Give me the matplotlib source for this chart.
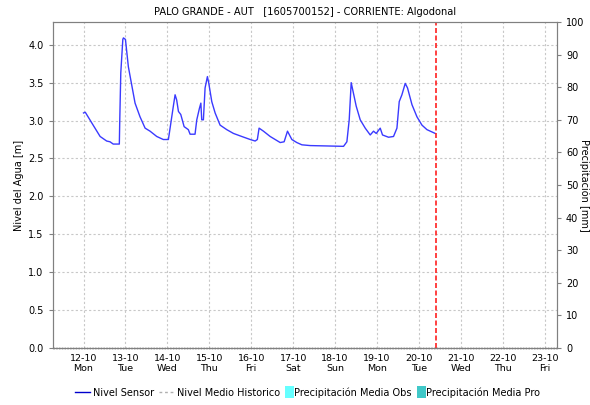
import matplotlib
matplotlib.use("Agg")
import matplotlib.pyplot as plt
import matplotlib.dates as mdates
from matplotlib.ticker import FormatStrFormatter
from matplotlib.lines import Line2D
from matplotlib.patches import Rectangle, Patch
from matplotlib.legend_handler import HandlerPatch
from datetime import datetime

# lecturas del sensor de nivel (fecha, nivel en m)
tiempos = [
    "2020-10-12 00:00", "2020-10-12 01:00", "2020-10-12 05:30", "2020-10-12 09:30",
    "2020-10-12 13:15", "2020-10-12 15:10", "2020-10-12 17:00", "2020-10-12 20:30",
    "2020-10-12 20:45", "2020-10-12 21:20", "2020-10-12 22:30", "2020-10-12 22:50",
    "2020-10-13 00:00", "2020-10-13 01:40", "2020-10-13 03:35", "2020-10-13 05:30",
    "2020-10-13 08:20", "2020-10-13 11:15", "2020-10-13 14:05", "2020-10-13 17:55",
    "2020-10-13 21:40", "2020-10-14 00:35", "2020-10-14 03:25", "2020-10-14 04:25",
    "2020-10-14 05:20", "2020-10-14 06:20", "2020-10-14 07:40", "2020-10-14 09:35",
    "2020-10-14 12:00", "2020-10-14 13:00", "2020-10-14 15:50", "2020-10-14 16:50",
    "2020-10-14 18:20", "2020-10-14 19:10", "2020-10-14 19:40", "2020-10-14 20:37",
    "2020-10-14 21:35", "2020-10-14 22:55", "2020-10-14 23:43", "2020-10-15 01:25",
    "2020-10-15 03:20", "2020-10-15 06:10", "2020-10-15 10:00", "2020-10-15 13:50",
    "2020-10-15 18:35", "2020-10-15 23:25", "2020-10-16 02:15", "2020-10-16 03:30",
    "2020-10-16 04:30", "2020-10-16 07:00", "2020-10-16 10:50", "2020-10-16 16:35",
    "2020-10-16 18:50", "2020-10-16 20:45", "2020-10-16 23:15", "2020-10-17 02:05",
    "2020-10-17 05:00", "2020-10-17 09:45", "2020-10-18 04:50", "2020-10-18 06:45",
    "2020-10-18 08:05", "2020-10-18 09:13", "2020-10-18 12:05", "2020-10-18 14:23",
    "2020-10-18 17:15", "2020-10-18 20:07", "2020-10-18 22:00", "2020-10-18 23:33",
    "2020-10-19 01:50", "2020-10-19 03:09", "2020-10-19 06:35", "2020-10-19 09:27",
    "2020-10-19 11:24", "2020-10-19 12:43", "2020-10-19 14:15", "2020-10-19 16:09",
    "2020-10-19 17:28", "2020-10-19 20:00", "2020-10-19 22:51", "2020-10-20 01:43",
    "2020-10-20 04:35", "2020-10-20 09:20",
]
nivel = [
    3.10, 3.11, 2.94, 2.79, 2.73, 2.72, 2.69, 2.69,
    3.01, 3.63, 4.07, 4.09, 4.07, 3.71, 3.47, 3.23,
    3.05, 2.90, 2.86, 2.79, 2.75, 2.75, 3.19, 3.34,
    3.27, 3.12, 3.08, 2.92, 2.88, 2.82, 2.82, 3.01,
    3.16, 3.23, 3.01, 3.01, 3.43, 3.58, 3.49, 3.25,
    3.10, 2.94, 2.88, 2.83, 2.79, 2.75, 2.73, 2.75,
    2.90, 2.86, 2.79, 2.71, 2.72, 2.86, 2.75, 2.71,
    2.68, 2.67, 2.66, 2.72, 3.01, 3.50, 3.19, 3.01,
    2.90, 2.81, 2.86, 2.83, 2.90, 2.81, 2.78, 2.79,
    2.90, 3.25, 3.34, 3.49, 3.43, 3.21, 3.05, 2.94,
    2.88, 2.83,
]
ahora = "2020-10-20 10:00"
inicio = "2020-10-11 06:15"
fin = "2020-10-23 07:00"

fmt = "%Y-%m-%d %H:%M"
t = [datetime.strptime(s, fmt) for s in tiempos]

fig = plt.figure(figsize=(5.9, 4.05), dpi=100)
ax = fig.add_axes([0.089, 0.1407, 0.855, 0.805])
ax2 = ax.twinx()

gris = "#808080"
for a in (ax, ax2):
    for s in a.spines.values():
        s.set_color(gris)

ax.plot(t, nivel, color="#3a3aff", lw=1.0)
ax.axvline(datetime.strptime(ahora, fmt), color="#ff2020", lw=1.2, ls=(0, (3, 1.5)))
ax.axhline(0, color="#303030", lw=1.0, ls=(0, (1, 1)), zorder=5, clip_on=False)

ax.set_xlim(datetime.strptime(inicio, fmt), datetime.strptime(fin, fmt))
ax.set_ylim(0, 4.3)
ax2.set_ylim(0, 100)

ax.xaxis.set_major_locator(mdates.DayLocator())
ax.xaxis.set_major_formatter(mdates.DateFormatter("%d-%m\n%a"))
ax.set_yticks([0.0, 0.5, 1.0, 1.5, 2.0, 2.5, 3.0, 3.5, 4.0])
ax.yaxis.set_major_formatter(FormatStrFormatter("%.1f"))
ax2.set_yticks(range(0, 101, 10))

ax.grid(True, color="#c8c8c8", ls=(0, (2, 2)), lw=0.8)
ax.tick_params(axis="x", length=0, labelsize=6.8, pad=4)
ax.tick_params(axis="y", length=3, color=gris, labelsize=7)
ax2.tick_params(axis="y", length=3, color=gris, labelsize=7)

ax.set_ylabel("Nivel del Agua [m]", fontsize=7, labelpad=3)
ax2.set_ylabel("Precipitación [mm]", fontsize=7, rotation=270, va="center")
ax2.yaxis.set_label_coords(1.054, 0.5)
ax.set_title("PALO GRANDE - AUT   [1605700152] - CORRIENTE: Algodonal",
             fontsize=7.1, pad=5)


def barra(legend, orig_handle, xdescent, ydescent, width, height, fontsize):
    # rectangulo angosto para las series de precipitacion
    return Rectangle((1 - xdescent, -ydescent - 2), 6, height + 4)


# leyenda de niveles (lineas) y de precipitacion (barras) por separado
fig.legend(
    [Line2D([], [], color="#0000cc", lw=1.0),
     Line2D([], [], color="#b0b0b0", lw=1.0, ls=(0, (2, 2)))],
    ["Nivel Sensor", "Nivel Medio Historico"],
    loc="lower left", bbox_to_anchor=(0.127, 0.018), ncol=2, frameon=False,
    fontsize=7, handlelength=1.6, handletextpad=0.25, columnspacing=0.5,
    borderpad=0, borderaxespad=0)
fig.legend(
    [Patch(facecolor="#66ffff", edgecolor="none"),
     Patch(facecolor="#40c8c8", edgecolor="none")],
    ["Precipitación Media Obs", "Precipitación Media Pro"],
    loc="lower left", bbox_to_anchor=(0.481, 0.018), ncol=2, frameon=False,
    fontsize=7, handlelength=0.8, handletextpad=0.2, columnspacing=0.5,
    borderpad=0, borderaxespad=0,
    handler_map={Patch: HandlerPatch(patch_func=barra)})

fig.savefig("out.png", dpi=100)
